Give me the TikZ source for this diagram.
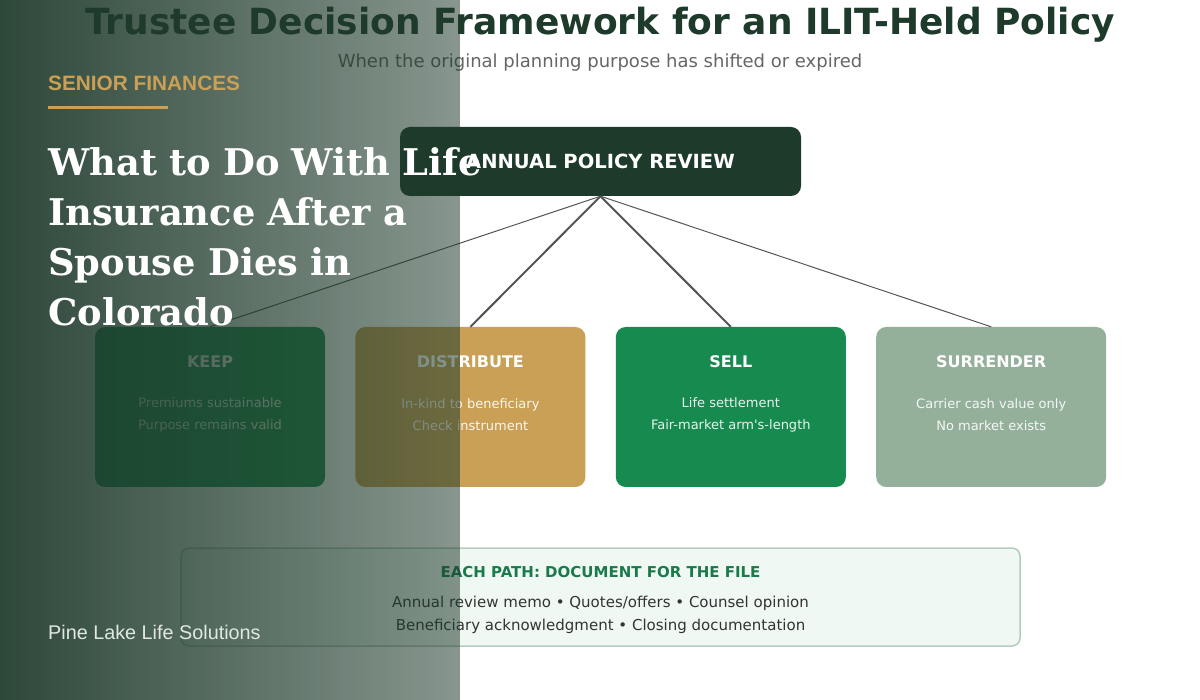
\documentclass[tikz,border=0pt]{standalone}
\usepackage{fontspec}
\setmainfont{DejaVu Sans}
\newfontfamily\headfont{DejaVu Serif}
\newfontfamily\brandfont{Liberation Sans}
\usetikzlibrary{
  positioning,
  fadings,
}
\definecolor{pineDark}{RGB}{30,58,43}
\definecolor{keepGreen}{RGB}{28,140,78}
\definecolor{distGold}{RGB}{201,160,85}
\definecolor{sellGreen}{RGB}{22,138,79}
\definecolor{surrSage}{RGB}{148,176,155}
\definecolor{subGray}{RGB}{102,102,102}
\definecolor{linkGray}{RGB}{85,85,85}
\definecolor{noteFill}{RGB}{240,248,243}
\definecolor{noteEdge}{RGB}{180,205,190}
\definecolor{noteGreen}{RGB}{26,122,74}
\definecolor{noteText}{RGB}{51,51,51}
\definecolor{brandGold}{RGB}{201,160,85}
\definecolor{brandText}{RGB}{225,232,226}
\tikzfading[name=sidefade, left color=transparent!7, right color=transparent!47]

\begin{document}
\begin{tikzpicture}[x=1pt,y=-1pt]%
\tikzstyle{optbox}=[rectangle,rounded corners=10pt,minimum width=230pt,minimum height=160pt,inner sep=0pt]
\tikzstyle{opttitle}=[text=white,font=\bfseries\fontsize{16}{19}\selectfont,inner sep=0pt]
\tikzstyle{optsub}=[text=white,text opacity=0.9,align=center,font=\fontsize{13}{22}\selectfont,inner sep=0pt]
\tikzstyle{link}=[draw=linkGray]
\useasboundingbox (0,0) rectangle (1200,700);
\fill[white] (0,0) rectangle (1200,700);
% heading
\node[font=\bfseries\fontsize{36}{42}\selectfont,text=pineDark] (title) at (600,25) {Trustee Decision Framework for an ILIT-Held Policy};
\node[font=\fontsize{18}{21}\selectfont,text=subGray] (subtitle) at (600,63) {When the original planning purpose has shifted or expired};
% root and options
\node[fill=pineDark,rounded corners=10pt,minimum width=401pt,minimum height=69pt,text=white,font=\bfseries\fontsize{19.5}{22}\selectfont] (review) at (600.5,161.5) {ANNUAL POLICY REVIEW};
\node[optbox,fill=keepGreen] (keep) at (210,407) {};
\node[optbox,fill=distGold] (distribute) [right=30pt of keep] {};
\node[optbox,fill=sellGreen] (sell) [right=30pt of distribute] {};
\node[optbox,fill=surrSage] (surrender) [right=30pt of sell] {};
\draw[link,line width=1pt] (review.south) -- (keep.north);
\draw[link,line width=2pt] (review.south) -- (distribute.north);
\draw[link,line width=2pt] (review.south) -- (sell.north);
\draw[link,line width=1pt] (review.south) -- (surrender.north);
\node[opttitle] (keepT) at ([yshift=-35pt]keep.north) {KEEP};
\node[optsub] (keepS) at ([yshift=-88pt]keep.north) {Premiums sustainable\\Purpose remains valid};
\node[opttitle] (distributeT) at ([yshift=-35pt]distribute.north) {DISTRIBUTE};
\node[optsub] (distributeS) at ([yshift=-88pt]distribute.north) {In-kind to beneficiary\\Check instrument};
\node[opttitle] (sellT) at ([yshift=-35pt]sell.north) {SELL};
\node[optsub] (sellS) at ([yshift=-88pt]sell.north) {Life settlement\\Fair-market arm\textquotesingle s-length};
\node[opttitle] (surrenderT) at ([yshift=-35pt]surrender.north) {SURRENDER};
\node[optsub] (surrenderS) at ([yshift=-88pt]surrender.north) {Carrier cash value only\\No market exists};
% file note
\node[rectangle,rounded corners=8pt,fill=noteFill,draw=noteEdge,line width=1.5pt,minimum width=839pt,minimum height=98pt] (docs) at (600.5,597) {};
\node[text=noteGreen,font=\bfseries\fontsize{15}{18}\selectfont] (docsT) at ([yshift=-25pt]docs.north) {EACH PATH: DOCUMENT FOR THE FILE};
\node[text=noteText,align=center,font=\fontsize{15}{23}\selectfont] (docsS) at ([yshift=-68pt]docs.north) {Annual review memo \textbullet{} Quotes/offers \textbullet{} Counsel opinion\\Beneficiary acknowledgment \textbullet{} Closing documentation};
% side panel
\fill[pineDark,path fading=sidefade] (0,0) rectangle (460,700);
\node[anchor=base west,inner sep=0pt,text=brandGold,font=\brandfont\bfseries\fontsize{20.8}{24}\selectfont] (tag) at (48,91) {SENIOR FINANCES};
\draw[brandGold,line width=3pt] (48,108) -- (168,108);
\node[anchor=base west,inner sep=0pt,text=white,text width=480pt,align=left,font=\headfont\bfseries\fontsize{36.8}{50}\selectfont] (headline) at (48,176) {What to Do With Life\\Insurance After a\\Spouse Dies in\\Colorado};
\node[anchor=base west,inner sep=0pt,text=brandText,font=\brandfont\fontsize{19.8}{24}\selectfont] (brand) at (48,639) {Pine Lake Life Solutions};
\end{tikzpicture}
\end{document}
